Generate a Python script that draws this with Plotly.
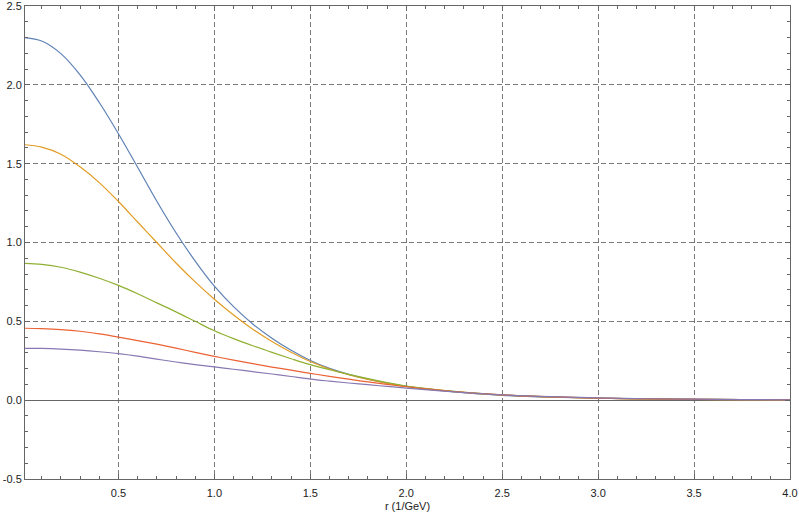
import plotly.graph_objects as go

# ---------------- DATA ----------------
r = [0.013, 0.1, 0.2, 0.3, 0.4, 0.5, 0.6, 0.7, 0.8, 0.9, 1.0,
     1.1, 1.2, 1.3, 1.4, 1.5, 1.6, 1.7, 1.8, 1.9, 2.0,
     2.25, 2.5, 2.75, 3.0, 3.25, 3.5, 3.75, 4.0]

blue = [2.30, 2.278, 2.198, 2.063, 1.888, 1.69, 1.477, 1.262, 1.062, 0.882, 0.723,
        0.593, 0.483, 0.393, 0.316, 0.252, 0.202, 0.164, 0.133, 0.108, 0.088,
        0.052, 0.031, 0.019, 0.012, 0.008, 0.005, 0.003, 0.002]
orange = [1.62, 1.605, 1.56, 1.48, 1.38, 1.26, 1.13, 1.0, 0.87, 0.75, 0.64,
          0.54, 0.45, 0.372, 0.304, 0.245, 0.198, 0.161, 0.131, 0.107, 0.087,
          0.054, 0.032, 0.020, 0.012, 0.008, 0.005, 0.003, 0.002]
green = [0.867, 0.861, 0.843, 0.812, 0.773, 0.728, 0.675, 0.617, 0.56, 0.50, 0.44,
         0.39, 0.345, 0.303, 0.263, 0.225, 0.193, 0.164, 0.137, 0.112, 0.09,
         0.056, 0.034, 0.021, 0.013, 0.008, 0.005, 0.003, 0.002]
red = [0.456, 0.454, 0.448, 0.437, 0.42, 0.40, 0.378, 0.355, 0.33, 0.303, 0.278,
       0.254, 0.232, 0.21, 0.19, 0.17, 0.151, 0.133, 0.116, 0.10, 0.085,
       0.055, 0.034, 0.021, 0.013, 0.008, 0.005, 0.003, 0.002]
purple = [0.329, 0.328, 0.324, 0.317, 0.307, 0.295, 0.279, 0.26, 0.242, 0.226, 0.211,
          0.196, 0.181, 0.166, 0.15, 0.134, 0.121, 0.109, 0.098, 0.087, 0.077,
          0.053, 0.034, 0.022, 0.014, 0.009, 0.006, 0.004, 0.002]

series = [
    (blue, "#5E81B5"),
    (orange, "#E19C24"),
    (green, "#8FB032"),
    (red, "#EB6235"),
    (purple, "#8778B3"),
]

x_ticks = [0.5, 1.0, 1.5, 2.0, 2.5, 3.0, 3.5, 4.0]
y_ticks = [-0.5, 0.0, 0.5, 1.0, 1.5, 2.0, 2.5]

# ---------------- FIGURE ----------------
fig = go.Figure()
for vals, col in series:
    fig.add_trace(go.Scatter(
        x=r, y=vals, mode="lines",
        line=dict(color=col, width=1.2, shape="spline", smoothing=1.0),
        showlegend=False, hoverinfo="skip",
    ))

frame = "#666666"
grid = "#7a7a7a"
font = "Liberation Sans, Arial, sans-serif"

axis_common = dict(
    automargin=False, ticklabeloverflow="allow",
    showline=True, linecolor=frame, linewidth=1, mirror="ticks",
    ticks="inside", ticklen=5, tickcolor=frame, tickwidth=1,
    showgrid=True, gridcolor=grid, gridwidth=1, griddash="5px,3px",
    tickfont=dict(family=font, size=11, color="#222222"),
    minor=dict(dtick=0.1, ticks="inside", ticklen=3, tickcolor=frame, showgrid=False),
)

fig.update_xaxes(
    range=[0.013, 4.0],
    tickvals=x_ticks, ticktext=[f"{v:.1f}" for v in x_ticks],
    zeroline=False, ticklabelstandoff=4,
    title=dict(text="r (1/GeV)", standoff=4,
               font=dict(family=font, size=11, color="#222222")),
    **axis_common,
)
fig.update_yaxes(
    range=[-0.5, 2.5],
    tickvals=y_ticks, ticktext=[f"{v:.1f}" for v in y_ticks],
    zeroline=True, zerolinecolor=frame, zerolinewidth=1,
    **axis_common,
)

fig.update_layout(
    width=799, height=516,
    margin=dict(l=25, r=9, t=6, b=37),
    plot_bgcolor="white", paper_bgcolor="white",
)

# page body has an 8px default margin; drop it so the figure fills the window
fig.write_html("out.html", config={"displayModeBar": False},
               post_script="document.body.style.margin='0';")
